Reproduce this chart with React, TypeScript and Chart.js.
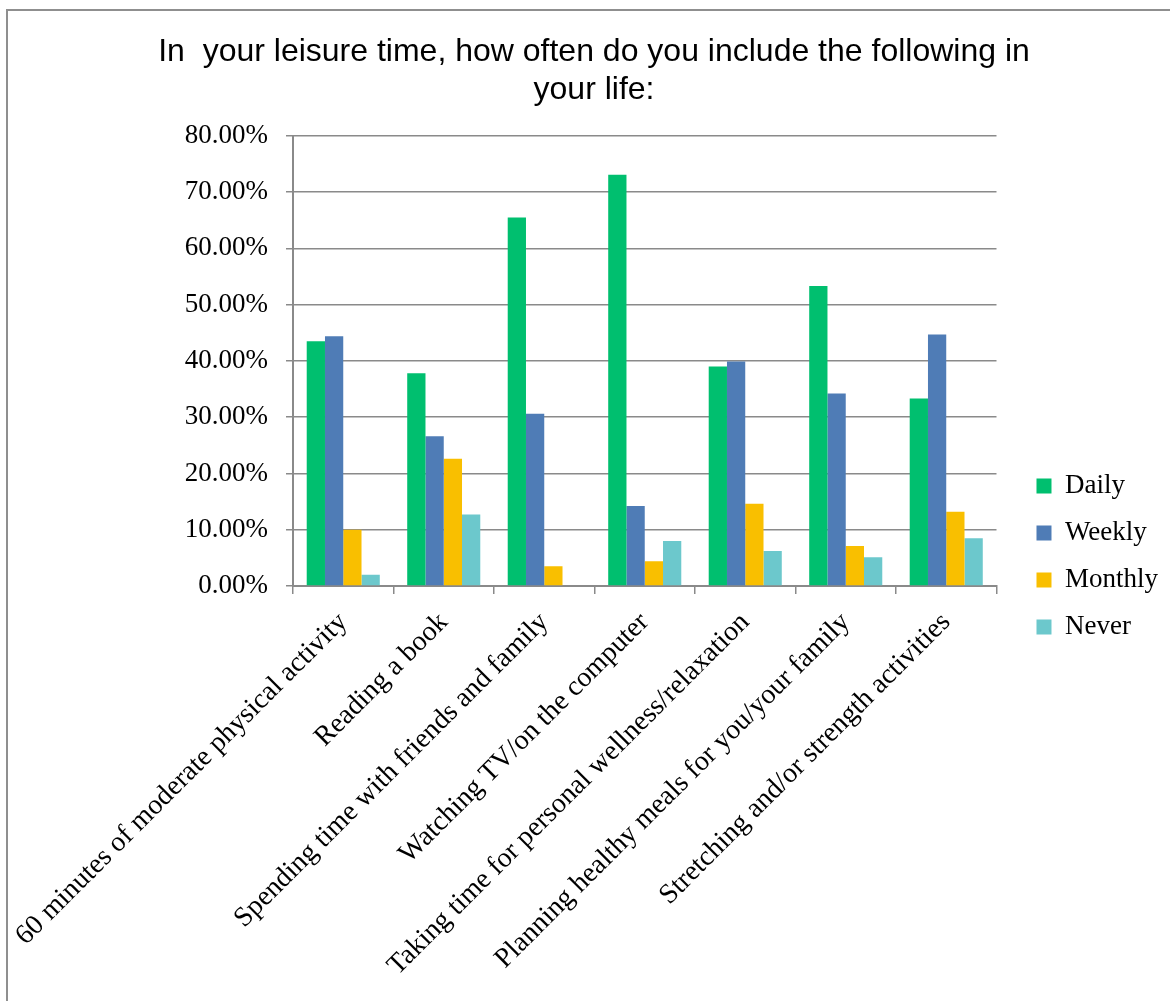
import { useEffect, useRef } from "react";
import { Chart, registerables } from "chart.js";
Chart.register(...registerables);

const categories = [
  "60 minutes of moderate physical activity",
  "Reading a book",
  "Spending time with friends and family",
  "Watching TV/on the computer",
  "Taking time for personal wellness/relaxation",
  "Planning healthy meals for you/your family",
  "Stretching and/or strength activities",
];
const seriesNames = ["Daily", "Weekly", "Monthly", "Never"];
const daily = [43.5, 37.8, 65.5, 73.1, 39.0, 53.3, 33.3];
const weekly = [44.4, 26.6, 30.6, 14.2, 39.9, 34.2, 44.7];
const monthly = [10.0, 22.6, 3.5, 4.4, 14.6, 7.1, 13.2];
const never = [2.0, 12.7, 0, 8.0, 6.2, 5.1, 8.5];
const seriesColors = ["#00BF6F", "#4F7CB6", "#F9BF00", "#6CC8CC"];
const yMax = 80;
const yStep = 10;
const titleLines = [
  "In  your leisure time, how often do you include the following in",
  "your life:",
];

const W = 1168;
const H = 1113;
const PAD_L = 20;

export default function App() {
  const ref = useRef<HTMLCanvasElement | null>(null);
  useEffect(() => {
    if (!ref.current) return;
    const grid = "#8a8a8a";
    const chart = new Chart(ref.current, {
      type: "bar",
      data: {
        labels: categories,
        datasets: [daily, weekly, monthly, never].map((d, i) => ({
          label: seriesNames[i],
          data: d,
          backgroundColor: seriesColors[i],
          borderWidth: 0,
          categoryPercentage: 0.727,
          barPercentage: 1,
        })),
      },
      options: {
        animation: false,
        responsive: false,
        layout: { padding: { left: PAD_L, right: 0, top: 0, bottom: 0 } },
        plugins: {
          title: {
            display: true,
            text: titleLines,
            color: "#000",
            font: { family: "'Liberation Sans', Arial, sans-serif", size: 32, weight: "normal", lineHeight: 1.2 },
            padding: { top: 33, bottom: 26 },
          },
          legend: {
            position: "right",
            labels: {
              boxWidth: 15,
              boxHeight: 15,
              padding: 20,
              color: "#000",
              font: { family: "'Liberation Serif', serif", size: 27 },
            },
          },
          tooltip: { enabled: false },
        },
        scales: {
          x: {
            grid: { display: true, drawOnChartArea: false, drawTicks: true, tickLength: 8, color: grid, lineWidth: 1.5, offset: true },
            border: { display: true, color: grid, width: 2 },
            ticks: {
              autoSkip: false,
              maxRotation: 45,
              minRotation: 45,
              padding: 12,
              color: "#000",
              font: { family: "'Liberation Serif', serif", size: 28 },
            },
            afterFit: (s: any) => {
              s.height = 527;
              s.paddingLeft = 0;
              s.paddingRight = 0;
            },
          },
          y: {
            min: 0,
            max: yMax,
            grid: { color: grid, lineWidth: 1.5, tickLength: 7 },
            border: { display: true, color: grid, width: 2 },
            ticks: {
              stepSize: yStep,
              padding: 18,
              color: "#000",
              font: { family: "'Liberation Serif', serif", size: 27 },
              callback: (v: any) => Number(v).toFixed(2) + "%",
            },
            afterFit: (s: any) => {
              s.width = 293 - PAD_L;
            },
          },
          y2: {
            position: "right",
            display: true,
            grid: { display: false },
            border: { display: false },
            ticks: { display: false },
            afterFit: (s: any) => {
              s.width = 20;
            },
          },
        },
      } as any,
    });
    return () => chart.destroy();
  }, []);
  return (
    <>
      <div style={{ position: "fixed", left: 6, top: 9, width: 1300, height: 1100, border: "2px solid #8f8f8f", pointerEvents: "none" }} />
      <div style={{ position: "fixed", left: 0, top: 0, width: W, height: H }}>
        <canvas ref={ref} width={W} height={H} style={{ width: W, height: H, display: "block" }} />
      </div>
    </>
  );
}
